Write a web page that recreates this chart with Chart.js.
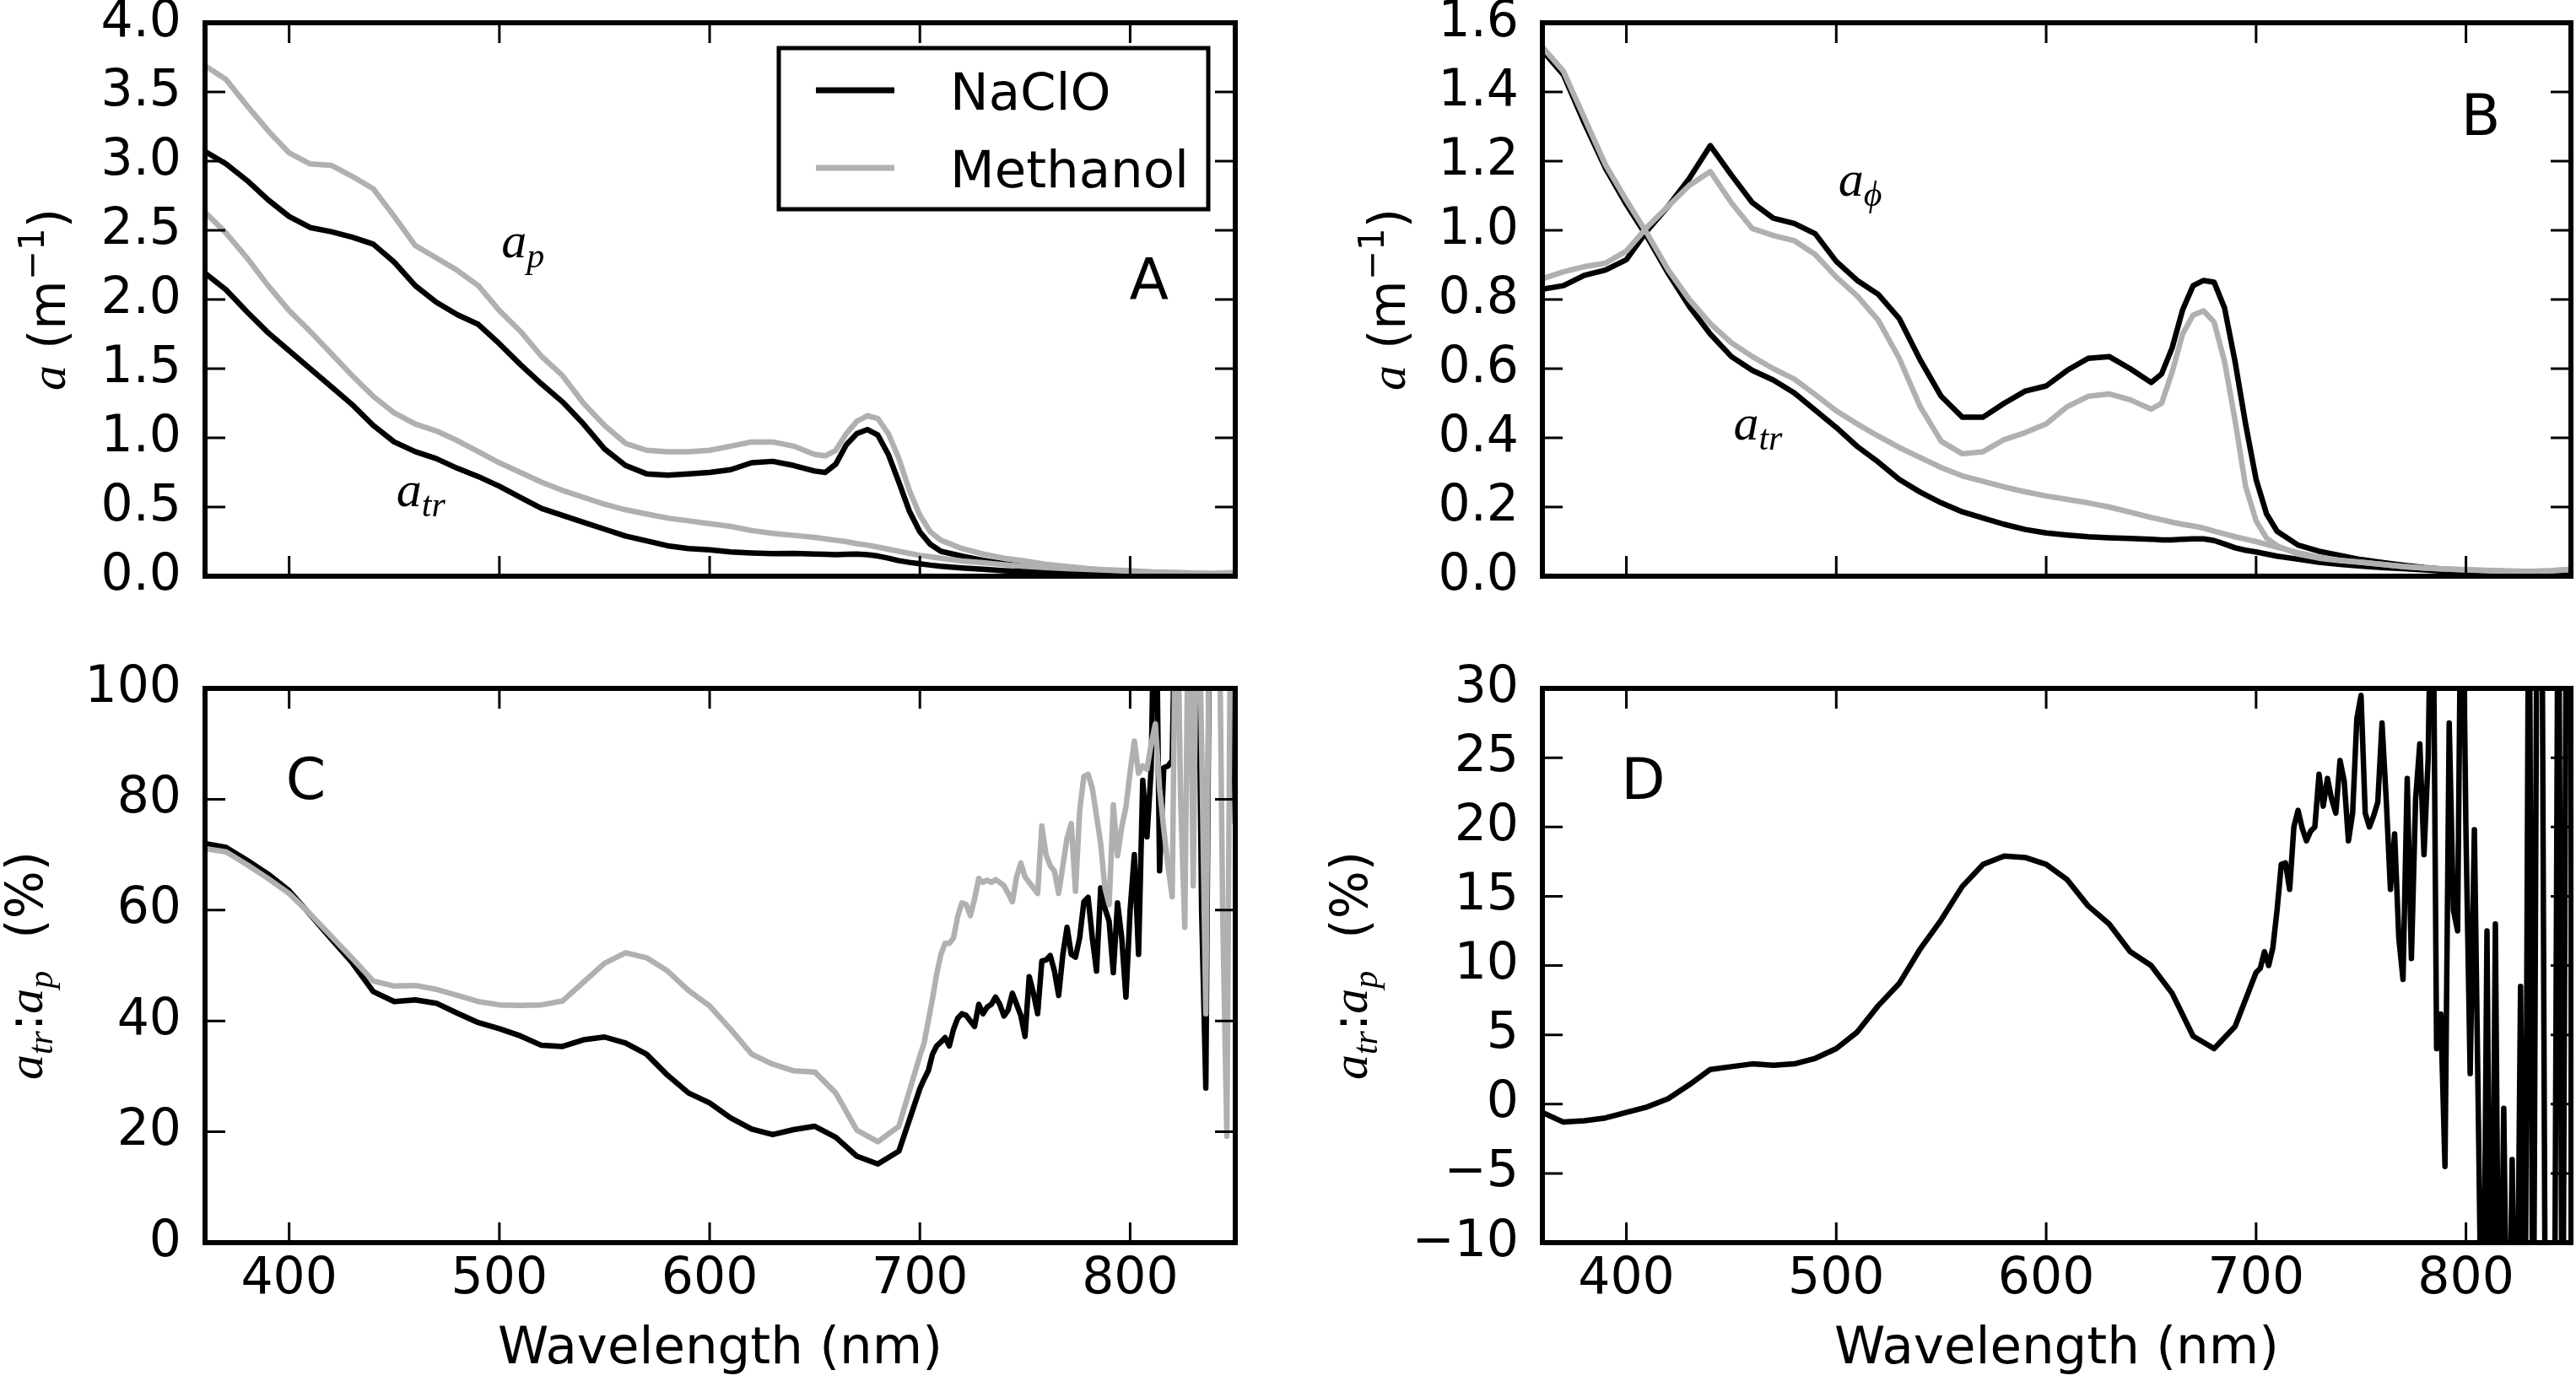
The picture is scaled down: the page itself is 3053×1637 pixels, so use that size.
<!DOCTYPE html>
<html><head><meta charset="utf-8">
<script src="https://cdn.jsdelivr.net/npm/chart.js@4.4.1/dist/chart.umd.min.js"></script>
<style>
html,body{margin:0;padding:0;background:#fff;}
body{width:3053px;height:1637px;position:relative;overflow:hidden;}
.panel{position:absolute;}
canvas{display:block;}
</style></head><body>
<div class="panel" style="left:0;top:0;"><canvas id="cA" width="1530" height="760"></canvas></div>
<div class="panel" style="left:1530px;top:0;"><canvas id="cB" width="1523" height="760"></canvas></div>
<div class="panel" style="left:0;top:760px;"><canvas id="cC" width="1530" height="877"></canvas></div>
<div class="panel" style="left:1530px;top:760px;"><canvas id="cD" width="1523" height="877"></canvas></div>
<script>
// ---------------- DATA ----------------
const xTicks = [400, 500, 600, 700, 800];
const xTitle = 'Wavelength (nm)';
const seriesNames = ['NaClO', 'Methanol'];

// Panels A and B wavelength grid (nm)
const wavelengthAB = [360,370,380,390,400,410,420,430,440,450,460,470,480,490,500,510,520,530,540,550,560,570,580,590,600,610,620,630,640,650,655,660,665,670,675,680,685,690,695,700,705,710,720,730,740,750,760,770,780,790,800,810,820,830,840,850];

// Panel A: a_p and a_tr (m^-1)
const apNaClO = [3.07,2.98,2.86,2.72,2.60,2.52,2.49,2.45,2.40,2.27,
  2.10,1.98,1.89,1.82,1.68,1.53,1.39,1.26,1.10,0.92,
  0.80,0.74,0.73,0.74,0.75,0.77,0.82,0.83,0.80,0.76,
  0.75,0.81,0.95,1.03,1.06,1.02,0.88,0.68,0.47,0.32,0.23,0.18,
  0.145,0.115,0.09,0.07,0.052,0.04,0.03,0.022,0.018,0.014,0.012,0.01,0.01,0.012];
const apMethanol = [3.69,3.59,3.40,3.22,3.06,2.98,2.97,2.89,2.80,2.60,
  2.39,2.30,2.21,2.10,1.92,1.77,1.59,1.45,1.25,1.09,
  0.96,0.91,0.90,0.90,0.91,0.94,0.97,0.97,0.94,0.88,
  0.87,0.91,1.03,1.12,1.16,1.14,1.03,0.85,0.62,0.44,0.32,0.26,
  0.20,0.16,0.13,0.11,0.085,0.07,0.055,0.045,0.04,0.03,0.025,0.02,0.018,0.025];
const atrNaClO = [2.19,2.07,1.91,1.76,1.63,1.50,1.37,1.24,1.09,0.97,
  0.90,0.85,0.78,0.72,0.65,0.57,0.49,0.44,0.39,0.34,
  0.29,0.255,0.22,0.20,0.19,0.175,0.168,0.163,0.164,0.16,
  0.158,0.156,0.158,0.16,0.155,0.146,0.13,0.112,0.10,0.09,0.08,0.072,
  0.06,0.05,0.04,0.033,0.027,0.022,0.018,0.015,0.012,0.01,0.009,0.008,0.008,0.01];
const atrMethanol = [2.63,2.48,2.30,2.10,1.92,1.77,1.61,1.45,1.30,1.18,
  1.10,1.05,0.98,0.90,0.82,0.75,0.68,0.62,0.57,0.52,
  0.48,0.45,0.42,0.40,0.38,0.36,0.33,0.31,0.295,0.28,
  0.27,0.26,0.25,0.235,0.225,0.21,0.195,0.18,0.165,0.15,0.14,0.13,
  0.11,0.097,0.083,0.072,0.063,0.055,0.048,0.042,0.036,0.031,0.027,0.023,0.02,0.028];

// Panel B: a_phi and a_tr (m^-1)
const aphiNaClO = [0.83,0.84,0.87,0.885,0.915,1.0,1.07,1.15,1.245,1.16,
  1.08,1.035,1.02,0.99,0.91,0.855,0.815,0.745,0.625,0.52,
  0.46,0.46,0.50,0.535,0.55,0.595,0.63,0.635,0.60,0.56,
  0.585,0.66,0.77,0.84,0.855,0.85,0.775,0.62,0.44,0.28,0.18,0.13,
  0.09,0.072,0.06,0.048,0.04,0.032,0.025,0.02,0.016,0.013,0.011,0.01,0.012,0.017];
const aphiMethanol = [0.86,0.88,0.895,0.905,0.94,1.01,1.07,1.13,1.17,1.08,
  1.005,0.985,0.97,0.93,0.865,0.81,0.74,0.63,0.49,0.39,
  0.354,0.36,0.395,0.415,0.44,0.49,0.52,0.527,0.51,0.483,
  0.50,0.59,0.70,0.755,0.767,0.735,0.62,0.45,0.26,0.16,0.11,0.088,
  0.064,0.052,0.045,0.04,0.034,0.028,0.024,0.021,0.019,0.017,0.015,0.014,0.016,0.02];
const atrBNaClO = [1.52,1.45,1.31,1.18,1.075,0.98,0.875,0.78,0.70,0.635,
  0.595,0.567,0.53,0.48,0.43,0.375,0.33,0.28,0.243,0.212,
  0.186,0.168,0.15,0.135,0.125,0.119,0.114,0.111,0.109,0.107,
  0.105,0.105,0.107,0.108,0.108,0.103,0.093,0.082,0.075,0.07,0.064,0.058,
  0.049,0.04,0.034,0.029,0.025,0.022,0.018,0.014,0.011,0.01,0.009,0.008,0.009,0.011];
const atrBMethanol = [1.53,1.46,1.325,1.19,1.087,0.99,0.885,0.80,0.73,0.675,
  0.635,0.60,0.57,0.525,0.478,0.44,0.405,0.372,0.343,0.314,
  0.29,0.274,0.258,0.244,0.232,0.222,0.212,0.20,0.185,0.17,
  0.163,0.156,0.15,0.145,0.139,0.13,0.122,0.114,0.107,0.10,0.092,0.084,
  0.068,0.055,0.046,0.04,0.034,0.028,0.024,0.021,0.018,0.016,0.014,0.013,0.015,0.019];

// Panels C and D wavelength grid (nm)
const wavelengthCD = [360,370,380,390,400,410,420,430,440,450,460,470,480,490,500,510,520,530,540,550,560,570,580,590,600,610,620,630,640,650,660,670,680,690,700,
  702,704,706,708,710,712,714,716,718,720,722,724,726,728,730,732,734,736,738,740,
  742,744,746,748,750,752,754,756,758,760,762,764,766,768,770,772,774,776,778,780,
  782,784,786,788,790,792,794,796,798,800,802,804,806,808,810,812,814,816,818,820,
  822,824,826,828,830,832,834,836,838,840,842,844,846,848,850];

// Panel C: a_tr : a_p (%)
const ratioNaClO = [72.0,71.3,69.0,66.5,63.5,59.2,54.8,50.5,45.3,43.5,
  43.8,43.2,41.4,39.7,38.6,37.3,35.6,35.4,36.6,37.1,
  36.0,34.0,30.2,27.0,25.2,22.5,20.5,19.5,20.4,21.0,
  19.0,15.6,14.2,16.5,27.8,
  29.5,31.0,34.0,35.5,36.2,37.0,35.5,38.5,40.5,41.3,
  41.0,40.0,39.0,43.0,41.3,42.5,43.0,44.3,43.0,40.9,
  42.0,45.0,43.0,41.0,37.2,48.0,45.0,41.3,50.8,51.0,
  51.8,49.0,44.6,52.0,56.9,52.0,51.5,55.0,61.5,62.3,
  55.0,49.0,64.0,60.3,58.0,48.7,61.3,55.0,44.3,60.0,
  70.0,52.0,83.4,73.2,85.4,130,67.1,85.7,86.0,87.0,
  130,120,140,120,140,130,60.0,27.9,130,140,
  150,140,130,130,75.6];
const ratioMethanol = [71.1,70.5,68.2,65.7,63.0,59.3,55.3,51.3,47.2,46.3,
  46.4,45.7,44.6,43.5,42.9,42.8,42.9,43.6,47.0,50.4,
  52.3,51.4,49.0,45.5,42.7,38.5,34.0,32.2,31.0,30.8,
  27.0,20.3,18.2,21.0,33.7,
  36.0,40.0,44.0,48.5,52.0,54.0,54.0,55.0,58.9,61.3,
  61.0,59.0,62.0,65.7,65.0,65.4,65.0,65.5,65.0,64.4,
  63.0,61.5,66.0,68.5,66.0,65.0,64.0,63.0,75.2,70.0,
  68.0,67.0,63.0,68.0,73.0,75.6,63.4,78.0,84.1,84.5,
  82.0,77.0,72.0,64.0,61.0,79.0,69.8,75.0,78.6,85.0,
  90.5,84.7,86.0,85.4,90.0,93.6,82.0,74.6,68.0,62.4,
  130,80.0,56.9,130,64.4,130,90.0,41.3,130,140,
  130,60.0,19.2,130,140];

// Panel D: a_tr : a_p (%)
const ratioD = [-0.6,-1.3,-1.2,-1.0,-0.6,-0.2,0.4,1.4,2.5,2.7,
  2.9,2.8,2.9,3.3,4.0,5.2,7.1,8.7,11.2,13.3,
  15.7,17.3,17.9,17.8,17.3,16.2,14.3,13.0,11.0,10.0,
  8.0,4.9,4.0,5.6,9.5,
  9.8,11.0,10.0,11.3,14.0,17.3,17.4,15.5,20.0,21.2,
  19.9,19.0,19.7,20.0,23.8,21.5,23.5,22.0,21.0,24.8,
  23.3,19.0,21.0,27.8,29.5,21.0,20.0,20.8,21.8,27.5,
  22.0,15.5,19.5,12.0,9.0,23.5,10.5,22.0,26.0,18.0,
  25.0,45.0,4.0,6.5,-4.5,27.5,14.0,12.5,45.0,19.5,
  2.2,19.8,-2.0,-25.0,12.5,-25.0,13.0,-25.0,-0.3,-25.0,
  -4.0,-25.0,8.5,-25.0,45.0,-25.0,45.0,45.0,-25.0,-25.0,
  -25.0,45.0,-25.0,45.0,45.0];

// annotation anchors in data units [wavelength, value]
const noteA_ap = [501, 2.305], noteA_atr = [451, 0.506], letterA = [809, 2.0];
const noteB_aphi = [501, 1.10], noteB_atr = [451, 0.395], letterB = [807, 1.276];
const letterC = [408, 80.1], letterD = [408, 22.0];

// ---------------- STYLE ----------------
const SANS = '"DejaVu Sans", sans-serif';
const MATHF = '"Liberation Serif", "DejaVu Serif", serif';
const BLACK = '#000000', GRAY = '#b0b0b0';
const LW = 6.5;

const it = (t, size, dy) => ({t, font: `italic ${size}px ${MATHF}`, dy: dy || 0});
const rm = (t, size, dy) => ({t, font: `${size}px ${SANS}`, dy: dy || 0});

function drawParts(ctx, parts, x, y, align) {
  let total = 0;
  parts.forEach(p => { ctx.font = p.font; p._w = ctx.measureText(p.t).width; total += p._w; });
  let cx = align === 'center' ? x - total / 2 : x;
  ctx.textAlign = 'left'; ctx.textBaseline = 'alphabetic';
  parts.forEach(p => { ctx.font = p.font; ctx.fillText(p.t, cx, y + p.dy); cx += p._w; });
}

function toXY(wl, vals) { return wl.map((w, i) => ({x: w, y: vals[i]})); }

function ds(label, wl, vals, color) {
  return {label, data: toXY(wl, vals), borderColor: color, backgroundColor: color,
    borderWidth: LW, pointRadius: 0, tension: 0, fill: false, clip: 0,
    borderJoinStyle: 'round', borderCapStyle: 'round', order: color === GRAY ? 0 : 1};
}

const framePlugin = {
  id: 'frame',
  afterDatasetsDraw(chart) {
    const {ctx, chartArea: a, scales: {x, y}} = chart;
    ctx.save();
    ctx.strokeStyle = '#000'; ctx.lineWidth = 3; ctx.lineCap = 'butt';
    const L = 24;
    ctx.beginPath();
    x.ticks.forEach(t => {
      const px = x.getPixelForValue(t.value);
      ctx.moveTo(px, a.bottom); ctx.lineTo(px, a.bottom - L);
      ctx.moveTo(px, a.top); ctx.lineTo(px, a.top + L);
    });
    y.ticks.forEach(t => {
      const py = y.getPixelForValue(t.value);
      ctx.moveTo(a.left, py); ctx.lineTo(a.left + L, py);
      ctx.moveTo(a.right, py); ctx.lineTo(a.right - L, py);
    });
    ctx.stroke();
    ctx.lineWidth = 6;
    ctx.strokeRect(a.left, a.top, a.right - a.left, a.bottom - a.top);
    ctx.restore();
  }
};

function makeDecor(cfg) {
  return {
    id: 'decor',
    afterDraw(chart) {
      const {ctx, chartArea: a, scales: {x, y}} = chart;
      ctx.save();
      ctx.fillStyle = '#000';
      // y axis title
      ctx.save();
      ctx.translate(a.left - cfg.yTitleOffset, (a.top + a.bottom) / 2);
      ctx.rotate(-Math.PI / 2);
      drawParts(ctx, cfg.yTitle, 0, 0, 'center');
      ctx.restore();
      // panel letter
      ctx.font = `68px ${SANS}`; ctx.textAlign = 'center'; ctx.textBaseline = 'alphabetic';
      ctx.fillText(cfg.letter, x.getPixelForValue(cfg.letterAt[0]), y.getPixelForValue(cfg.letterAt[1]));
      // math notes
      (cfg.notes || []).forEach(n => drawParts(ctx, n.parts, x.getPixelForValue(n.at[0]), y.getPixelForValue(n.at[1]), 'left'));
      // legend
      if (cfg.legend) {
        const w = 509, h = 191;
        const bx = a.right - 32 - w, by = a.top + 30;
        ctx.fillStyle = '#fff'; ctx.fillRect(bx, by, w, h);
        ctx.strokeStyle = '#000'; ctx.lineWidth = 5; ctx.strokeRect(bx, by, w, h);
        const seen = [];
        chart.data.datasets.forEach(d => { if (!seen.find(s => s.label === d.label)) seen.push(d); });
        seen.sort((p, q) => seriesNames.indexOf(p.label) - seriesNames.indexOf(q.label));
        seen.forEach((d, i) => {
          const ly = by + 50 + i * 92;
          ctx.strokeStyle = d.borderColor; ctx.lineWidth = 7; ctx.lineCap = 'butt';
          ctx.beginPath(); ctx.moveTo(bx + 44, ly); ctx.lineTo(bx + 137, ly); ctx.stroke();
          ctx.fillStyle = '#000'; ctx.font = `61px ${SANS}`; ctx.textAlign = 'left'; ctx.textBaseline = 'alphabetic';
          ctx.fillText(d.label, bx + 203, ly + 23);
        });
      }
      ctx.restore();
    }
  };
}

function options(p) {
  return {
    responsive: false, animation: false, devicePixelRatio: 1,
    layout: {padding: {left: 0, right: p.padRight, top: p.padTop, bottom: 0}},
    plugins: {legend: {display: false}, tooltip: {enabled: false}},
    scales: {
      x: {
        type: 'linear', min: 360, max: 850, position: 'bottom',
        grid: {display: false, drawTicks: false}, border: {display: false},
        ticks: {display: p.showX, font: {family: SANS, size: 60}, color: '#000', padding: 8, maxRotation: 0},
        afterBuildTicks: s => { s.ticks = xTicks.map(v => ({value: v})); },
        afterFit: s => { s.height = p.xH; s.paddingLeft = 0; s.paddingRight = 0; },
        title: {display: p.showX, text: xTitle, color: '#000', font: {family: SANS, size: 61}, padding: {top: 0, bottom: 0}}
      },
      y: {
        type: 'linear', min: p.ymin, max: p.ymax, position: 'left',
        grid: {display: false, drawTicks: false}, border: {display: false},
        ticks: {stepSize: p.step, font: {family: SANS, size: 60}, color: '#000', padding: 28,
          callback: v => p.fmt(v)},
        afterFit: s => { s.width = p.yW; s.paddingTop = 0; s.paddingBottom = 0; }
      }
    }
  };
}

const fmt1 = v => v.toFixed(1);
const fmt0 = v => Math.round(v).toString().replace('-', '\u2212');

const yTitleAB = [it('a', 60), rm(' (m', 60), rm('\u22121', 42, -25), rm(')', 60)];
const yTitleCD = [it('a', 60), it('tr', 42, 12), rm(':', 60), it('a', 60), it('p', 42, 12), rm('  (%)', 60)];

new Chart(document.getElementById('cA'), {
  type: 'line',
  data: {datasets: [
    ds(seriesNames[0], wavelengthAB, apNaClO, BLACK),
    ds(seriesNames[1], wavelengthAB, apMethanol, GRAY),
    ds(seriesNames[0], wavelengthAB, atrNaClO, BLACK),
    ds(seriesNames[1], wavelengthAB, atrMethanol, GRAY)]},
  options: options({padRight: 66, padTop: 27, xH: 77, yW: 243, showX: false, ymin: 0, ymax: 4, step: 0.5, fmt: fmt1}),
  plugins: [framePlugin, makeDecor({yTitle: yTitleAB, yTitleOffset: 166, letter: 'A', letterAt: letterA, legend: true,
    notes: [{parts: [it('a', 60), it('p', 42, 12)], at: noteA_ap}, {parts: [it('a', 60), it('tr', 42, 12)], at: noteA_atr}]})]
});

new Chart(document.getElementById('cB'), {
  type: 'line',
  data: {datasets: [
    ds(seriesNames[0], wavelengthAB, aphiNaClO, BLACK),
    ds(seriesNames[1], wavelengthAB, aphiMethanol, GRAY),
    ds(seriesNames[0], wavelengthAB, atrBNaClO, BLACK),
    ds(seriesNames[1], wavelengthAB, atrBMethanol, GRAY)]},
  options: options({padRight: 6, padTop: 27, xH: 77, yW: 298, showX: false, ymin: 0, ymax: 1.6, step: 0.2, fmt: fmt1}),
  plugins: [framePlugin, makeDecor({yTitle: yTitleAB, yTitleOffset: 163, letter: 'B', letterAt: letterB,
    notes: [{parts: [it('a', 60), it('\u03D5', 42, 12)], at: noteB_aphi}, {parts: [it('a', 60), it('tr', 42, 12)], at: noteB_atr}]})]
});

new Chart(document.getElementById('cC'), {
  type: 'line',
  data: {datasets: [
    ds(seriesNames[0], wavelengthCD, ratioNaClO, BLACK),
    ds(seriesNames[1], wavelengthCD, ratioMethanol, GRAY)]},
  options: options({padRight: 66, padTop: 56, xH: 164, yW: 243, showX: true, ymin: 0, ymax: 100, step: 20, fmt: fmt0}),
  plugins: [framePlugin, makeDecor({yTitle: yTitleCD, yTitleOffset: 193, letter: 'C', letterAt: letterC})]
});

new Chart(document.getElementById('cD'), {
  type: 'line',
  data: {datasets: [
    ds(seriesNames[0], wavelengthCD, ratioD, BLACK)]},
  options: options({padRight: 6, padTop: 56, xH: 164, yW: 298, showX: true, ymin: -10, ymax: 30, step: 5, fmt: fmt0}),
  plugins: [framePlugin, makeDecor({yTitle: yTitleCD, yTitleOffset: 208, letter: 'D', letterAt: letterD})]
});
</script>
</body></html>
